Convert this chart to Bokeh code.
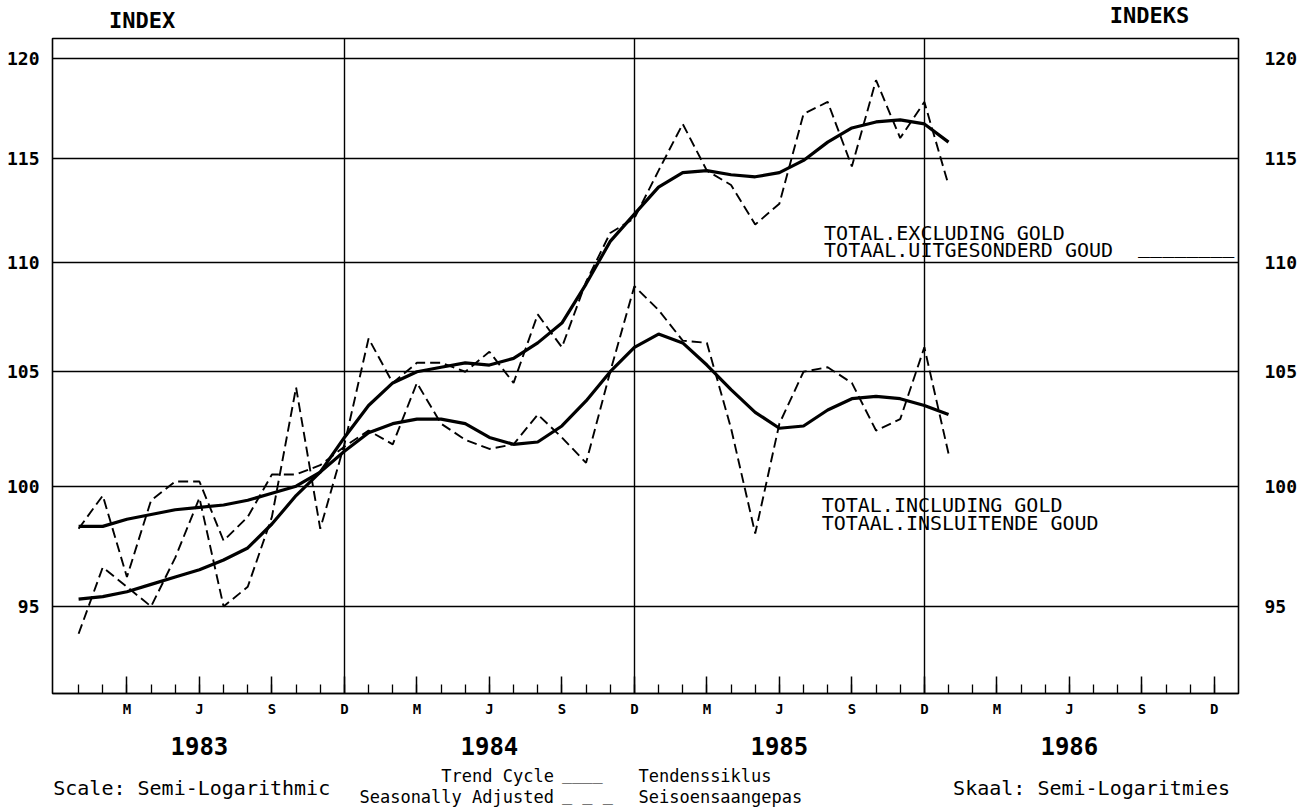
from bokeh.plotting import figure
from bokeh.models import (Range1d, LogAxis, FixedTicker, Label, BasicTickFormatter)
from bokeh.layouts import column
from bokeh.embed import file_html
from bokeh.resources import INLINE

# month index: 0 = Dec 1982, 1 = Jan 1983 ... 37 = Jan 1986
months = list(range(1, 38))

excl_sa = [93.9, 96.6, 95.8, 95.0, 97.0, 99.5, 95.0, 95.8, 98.7, 104.3,
           98.2, 101.8, 106.5, 104.5, 105.4, 105.4, 105.0, 105.9, 104.5, 107.6,
           106.1, 109.1, 111.4, 112.1, 114.4, 116.7, 114.4, 113.7, 111.8, 112.8,
           117.2, 117.8, 114.6, 118.9, 116.0, 117.8, 113.7]
excl_tc = [95.3, 95.4, 95.6, 95.9, 96.2, 96.5, 96.9, 97.4, 98.4, 99.6,
           100.6, 102.1, 103.5, 104.5, 105.0, 105.2, 105.4, 105.3, 105.6, 106.3,
           107.2, 109.0, 111.0, 112.3, 113.6, 114.3, 114.4, 114.2, 114.1, 114.3,
           114.9, 115.8, 116.5, 116.8, 116.9, 116.7, 115.8]
incl_sa = [98.2, 99.6, 96.2, 99.4, 100.2, 100.2, 97.7, 98.7, 100.5, 100.5,
           100.9, 101.7, 102.4, 101.8, 104.5, 102.7, 102.0, 101.6, 101.8, 103.1,
           102.1, 101.0, 105.0, 108.9, 107.8, 106.4, 106.3, 102.5, 98.0, 102.7,
           105.0, 105.2, 104.5, 102.4, 102.9, 106.1, 101.4]
incl_tc = [98.3, 98.3, 98.6, 98.8, 99.0, 99.1, 99.2, 99.4, 99.7, 100.0,
           100.6, 101.5, 102.3, 102.7, 102.9, 102.9, 102.7, 102.1, 101.8, 101.9,
           102.6, 103.7, 105.0, 106.1, 106.7, 106.3, 105.3, 104.2, 103.2, 102.5,
           102.6, 103.3, 103.8, 103.9, 103.8, 103.5, 103.1]

y_ticks = [95, 100, 105, 110, 115, 120]
quarter_ticks = [3, 6, 9, 12, 15, 18, 21, 24, 27, 30, 33, 36, 39, 42, 45, 48]
quarter_labels = ["M", "J", "S", "D"] * 4
month_ticks = list(range(1, 49))
dec_ticks = [12, 24, 36]
year_pos = [6, 18, 30, 42]
year_labels = ["1983", "1984", "1985", "1986"]

FONT = "DejaVu Sans Mono"
W = 1300
xr = Range1d(-0.08, 49.0)


def lab(fig, text, x, y, size="17px", align="left", style="normal"):
    fig.add_layout(Label(x=x, y=y, text=text, text_font=FONT,
                         text_font_size=size, text_align=align,
                         text_baseline="middle", text_font_style=style,
                         text_color="black"))


def blank(height, x_range, y_range, left=0, right=0):
    f = figure(width=W, height=height, x_range=x_range, y_range=y_range,
               output_backend="svg", toolbar_location=None,
               x_axis_location=None, y_axis_location=None,
               min_border_left=left, min_border_right=right,
               min_border_top=0, min_border_bottom=0)
    f.grid.visible = False
    f.outline_line_color = None
    f.background_fill_color = "white"
    f.border_fill_color = "white"
    return f


# ---- top strip (axis titles) ----
top = blank(36, Range1d(0, W), Range1d(36, 0))
lab(top, "INDEX", 62, 20, size="22px", style="bold")
lab(top, "INDEKS", 1246, 15, size="22px", align="right", style="bold")

# ---- main chart ----
p = figure(width=W, height=687, x_range=xr,
           y_range=Range1d(91.54, 121.03), y_axis_type="log",
           output_backend="svg", toolbar_location=None,
           min_border_left=52, min_border_right=W - 1242, min_border_top=2,
           min_border_bottom=30)
p.background_fill_color = "white"
p.border_fill_color = "white"
p.outline_line_color = "black"
p.outline_line_width = 1.6

p.xgrid.ticker = FixedTicker(ticks=dec_ticks)
p.xgrid.grid_line_color = "black"
p.xgrid.grid_line_width = 1.4
p.ygrid.ticker = FixedTicker(ticks=y_ticks)
p.ygrid.grid_line_color = "black"
p.ygrid.grid_line_width = 1.6

la = p.yaxis[0]
la.ticker = FixedTicker(ticks=y_ticks)
la.formatter = BasicTickFormatter()
la.axis_line_color = None
la.major_tick_line_color = None
la.minor_tick_line_color = None
la.major_label_standoff = 7
la.major_label_text_font = FONT
la.major_label_text_font_style = "bold"
la.major_label_text_font_size = "18px"
la.major_label_text_color = "black"

ra = LogAxis(ticker=FixedTicker(ticks=y_ticks), formatter=BasicTickFormatter())
ra.axis_line_color = None
ra.major_tick_line_color = None
ra.minor_tick_line_color = None
ra.major_label_standoff = 20
ra.major_label_text_font = FONT
ra.major_label_text_font_style = "bold"
ra.major_label_text_font_size = "18px"
ra.major_label_text_color = "black"
p.add_layout(ra, "right")

ba = p.xaxis[0]
ba.ticker = FixedTicker(ticks=quarter_ticks, minor_ticks=month_ticks)
ba.major_label_overrides = {t: l for t, l in zip(quarter_ticks, quarter_labels)}
ba.axis_line_color = "black"
ba.axis_line_width = 1.6
ba.major_tick_in = 17
ba.major_tick_out = 0
ba.minor_tick_in = 9
ba.minor_tick_out = 0
ba.major_tick_line_width = 1.5
ba.minor_tick_line_width = 1.3
ba.major_tick_line_color = "black"
ba.minor_tick_line_color = "black"
ba.major_label_standoff = 7
ba.major_label_text_font = FONT
ba.major_label_text_font_style = "bold"
ba.major_label_text_font_size = "14px"
ba.major_label_text_color = "black"

p.line(months, excl_sa, line_color="black", line_width=1.9, line_dash="10 5")
p.line(months, incl_sa, line_color="black", line_width=1.9, line_dash="10 5")
p.line(months, excl_tc, line_color="black", line_width=3.2)
p.line(months, incl_tc, line_color="black", line_width=3.2)

lab(p, "TOTAL.EXCLUDING GOLD", 31.85, 111.42, size="20px")
lab(p, "TOTAAL.UITGESONDERD GOUD", 31.85, 110.6, size="20px")
lab(p, "________", 48.83, 110.76, size="20px", align="right")
lab(p, "TOTAL.INCLUDING GOLD", 31.75, 99.18, size="20px")
lab(p, "TOTAAL.INSLUITENDE GOUD", 31.75, 98.46, size="20px")

# ---- bottom strip (years, scale note, legend) ----
bot = blank(84, xr, Range1d(84, 0), left=52, right=W - 1242)
for xp, yl in zip(year_pos, year_labels):
    lab(bot, yl, xp, 22, size="24px", align="center", style="bold")
lab(bot, "Scale: Semi-Logarithmic", -0.05, 64, size="20px")
lab(bot, "Skaal: Semi-Logaritmies", 48.65, 64, size="20px", align="right")
lab(bot, "Trend Cycle", 20.67, 52, size="17px", align="right")
lab(bot, "____", 21.0, 50, size="17px")
lab(bot, "Tendenssiklus", 24.17, 52, size="17px")
lab(bot, "Seasonally Adjusted", 20.67, 73, size="17px", align="right")
lab(bot, "_ _ _", 21.0, 71, size="17px")
lab(bot, "Seisoensaangepas", 24.17, 73, size="17px")

layout = column(top, p, bot, spacing=0)
open("out.html", "w").write(file_html(layout, INLINE))
